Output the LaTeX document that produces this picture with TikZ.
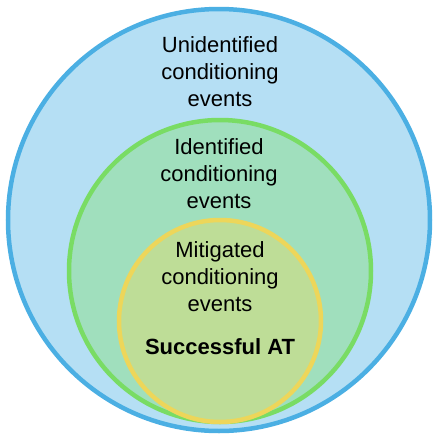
\documentclass[tikz,border=0pt]{standalone}
\usepackage{fontspec}
\setmainfont{Liberation Sans}
\usepackage{xcolor}
\usetikzlibrary{positioning}

\definecolor{skyfill}{HTML}{B5DFF4}
\definecolor{skyline}{HTML}{4BAFE3}
\definecolor{mintfill}{HTML}{A0DFBD}
\definecolor{mintline}{HTML}{79DC64}
\definecolor{limefill}{HTML}{BEDD97}
\definecolor{limeline}{HTML}{EDD65A}

\begin{document}
\begin{tikzpicture}[
    x=1pt, y=-1pt,
    ring/.style={circle, inner sep=0pt, line width=4.5pt},
    label/.style={align=center, font=\fontsize{22}{27}\selectfont}
]
    \useasboundingbox (0,0) rectangle (438,440);

    \node[ring, draw=skyline, fill=skyfill, minimum size=422pt] (unident) at (219,220) {};
    \node[ring, draw=mintline, fill=mintfill, minimum size=302pt] (ident) at (220,271) {};
    \node[ring, draw=limeline, fill=limefill, minimum size=202pt] (mitig) at (220,321) {};

    \node[label] (unidenttext) at (220,72) {Unidentified\\conditioning\\events};
    \node[label] (identtext) at (219,174) {Identified\\conditioning\\events};
    \node[label] (mitigtext) at (220,277) {Mitigated\\conditioning\\events};
    \node[label, font=\fontsize{22}{27}\selectfont\bfseries, below=19pt of mitigtext] (success) {Successful AT};
\end{tikzpicture}
\end{document}
